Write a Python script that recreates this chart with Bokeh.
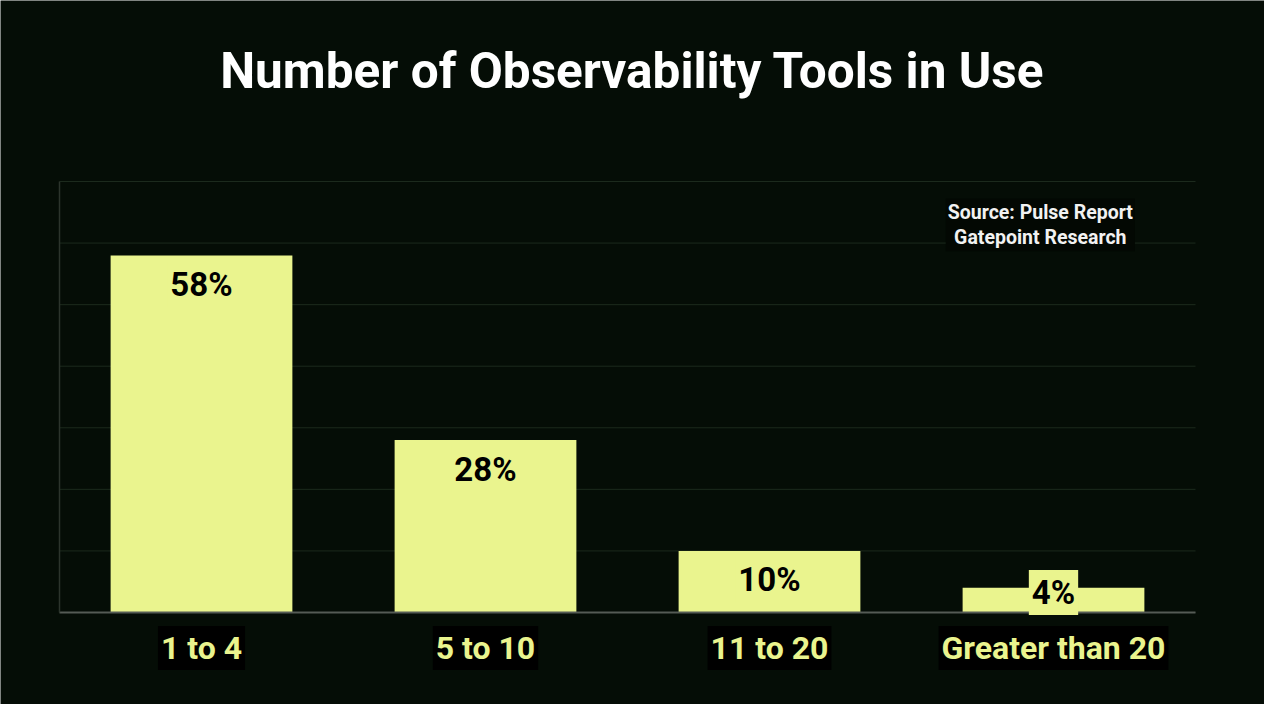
from bokeh.plotting import figure
from bokeh.models import ColumnDataSource, Range1d, FixedTicker
from bokeh.core.properties import value
from bokeh.embed import file_html
from bokeh.resources import INLINE

categories = ["1 to 4", "5 to 10", "11 to 20", "Greater than 20"]
values = [58, 28, 10, 4]
value_labels = ["58%", "28%", "10%", "4%"]
y_ticks = [0, 10, 20, 30, 40, 50, 60, 70]
title_text = "Number of Observability Tools in Use"
source_text = "Source: Pulse Report\nGatepoint Research"

BG = "#050d06"
BAR = "#eaf48e"
FONT = "Roboto"

W, H = 1264, 704
left = 59           # pixel column of the category axis start
unit_w = 284.0      # pixel width of one category slot
axis_px = 612       # pixel row of value 0
top_px = 181        # pixel row of value 70
ppu = (axis_px - top_px) / 70.0
ymin = -(H - axis_px) / ppu
ymax = 70 + top_px / ppu
n = len(categories)
xmin = -left / unit_w
xmax = (W - left) / unit_w

xs = [i + 0.5 for i in range(n)]
label_y = [max(v - 29 / ppu, 20 / ppu) for v in values]
cat_y = [-35.5 / ppu] * n

src = ColumnDataSource(dict(x=xs, cat=categories, val=values, lab=value_labels, ly=label_y, cy=cat_y))

p = figure(width=W, height=H, x_range=Range1d(xmin, xmax), y_range=Range1d(ymin, ymax),
           output_backend="svg", toolbar_location=None,
           min_border_left=0, min_border_right=0, min_border_top=0, min_border_bottom=0)
p.background_fill_color = BG
p.border_fill_color = BG
p.outline_line_color = None
p.xaxis.visible = False
p.yaxis.visible = False
p.xgrid.visible = False
p.ygrid.ticker = FixedTicker(ticks=y_ticks)
p.ygrid.grid_line_color = None

# horizontal gridlines spanning the category area only
p.segment(x0=[0] * len(y_ticks), y0=y_ticks, x1=[n] * len(y_ticks),
          y1=y_ticks, line_color="#1c2a1d", line_width=1)

p.vbar(x="x", top="val", width=0.64, source=src, fill_color=BAR, line_color=None)

p.segment(x0=[0], y0=[0], x1=[n], y1=[0], line_color="#555b55", line_width=2)
p.segment(x0=[0], y0=[min(y_ticks)], x1=[0], y1=[max(y_ticks)], line_color="#2c342c", line_width=1.5)

p.text(x="x", y="ly", text="lab", source=src, text_align="center",
       text_baseline="middle", text_font=value(FONT), text_font_style="bold",
       text_font_size="33px", text_color="#000000",
       background_fill_color=BAR, padding=3)

p.text(x="x", y="cy", text="cat", source=src, text_align="center",
       text_baseline="middle", text_font=value(FONT), text_font_style="bold",
       text_font_size="32px", text_color=BAR,
       background_fill_color="#000000", padding=3)

title_x = (640 * W / 1280 - left) / unit_w
title_y = 70 + (top_px - 72 * H / 720) / ppu
p.text(x=[title_x], y=[title_y], text=[title_text], text_align="center",
       text_baseline="middle", text_font=value(FONT), text_font_style="bold",
       text_font_size="49.5px", text_color="#ffffff")

src_x = (1053 * W / 1280 - left) / unit_w
src_y = 70 - (229.5 * H / 720 - top_px) / ppu
p.text(x=[src_x], y=[src_y], text=[source_text], text_align="center",
       text_baseline="middle", text_font=value(FONT), text_font_style="bold",
       text_font_size="19.5px", text_color="#f2f2f2", text_line_height=1.12,
       background_fill_color="#030803", padding=2)

open("out.html", "w").write(file_html(p, INLINE))
